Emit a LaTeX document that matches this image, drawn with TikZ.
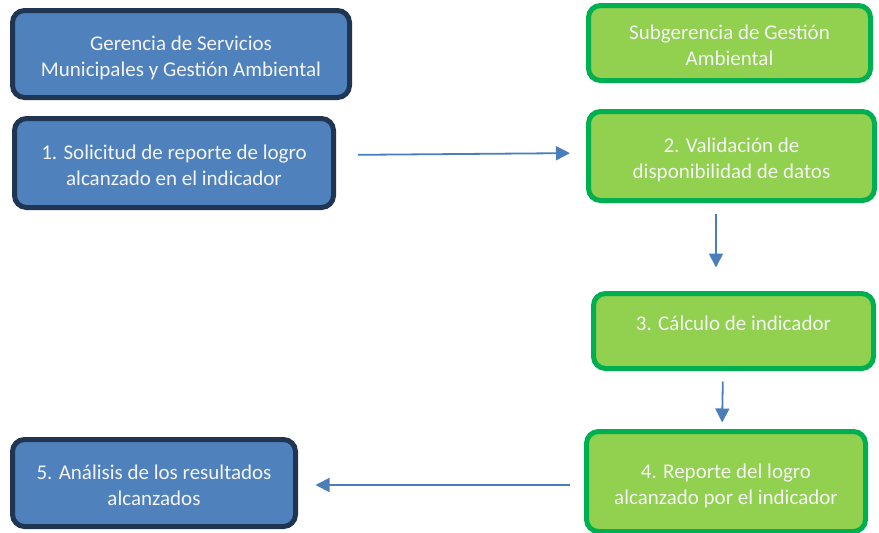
\documentclass[tikz,border=0pt]{standalone}
\usepackage{fontspec}
\setmainfont{Carlito}
\usepackage{tikz}
\usetikzlibrary{arrows.meta,positioning}

\definecolor{areafill}{HTML}{4F81BD}
\definecolor{arealine}{HTML}{1F3552}
\definecolor{subfill}{HTML}{92D050}
\definecolor{subline}{HTML}{00B050}
\definecolor{flecha}{HTML}{4A7EBB}
\definecolor{letra}{HTML}{F4F4F4}

\tikzset{
  caja/.style = {rounded corners=12pt, line width=5pt, align=center,
                 text height=45.5pt, text depth=0pt,
                 text=letra, font=\fontsize{21}{26}\selectfont, inner sep=0pt},
  gerencia/.style = {caja, draw=arealine, fill=areafill},
  subger/.style   = {caja, draw=subline, fill=subfill},
  flujo/.style    = {draw=flecha, line width=1.8pt,
                     -{Triangle[length=14pt,width=14pt]}}
}

\begin{document}
\begin{tikzpicture}[x=1pt,y=1pt]
\useasboundingbox (0,0) rectangle (879,-533);

\node (G) [gerencia, minimum width=337pt, minimum height=87pt] at (181,-54)
      {Gerencia de Servicios\\Municipales y Gestión Ambiental};
\node (P1) [gerencia, minimum width=319pt, minimum height=89pt, below=16pt of G, xshift=-7pt]
      {1. Solicitud de reporte de logro\\alcanzado en el indicador};

\node (S) [subger, minimum width=282pt, minimum height=75pt] at (729.5,-43)
      {Subgerencia de Gestión\\Ambiental};
\node (P2) [subger, minimum width=286pt, minimum height=89pt, below=26pt of S, xshift=2pt]
      {2. Validación de\\disponibilidad de datos};
\node (P3) [subger, minimum width=280pt, minimum height=75pt, below=88pt of P2, xshift=2pt,
            text height=0pt]
      {\raisebox{1pt}[0pt][0pt]{3. Cálculo de indicador}};
\node (P4) [subger, minimum width=279pt, minimum height=100pt, below=58pt of P3, xshift=-7.5pt]
      {4. Reporte del logro\\alcanzado por el indicador};
\node (P5) [gerencia, minimum width=283pt, minimum height=87pt, left=286pt of P4, yshift=-1.5pt]
      {5. Análisis de los resultados\\alcanzados};

\draw[flujo, shorten <=22pt, shorten >=16pt] ([yshift=8pt]P1.east) -- ([yshift=3pt]P2.west);
\draw[flujo, shorten <=10.5pt, shorten >=23.5pt] ([xshift=-15.5pt]P2.south) -- ([xshift=-17.5pt]P3.north);
\draw[flujo, shorten <=10.5pt, shorten >=6.5pt] ([xshift=-10.5pt]P3.south) -- ([xshift=-4pt]P4.north);
\draw[flujo, shorten <=14.5pt, shorten >=17.5pt] ([yshift=-3.5pt]P4.west) -- ([yshift=-2pt]P5.east);
\end{tikzpicture}
\end{document}
